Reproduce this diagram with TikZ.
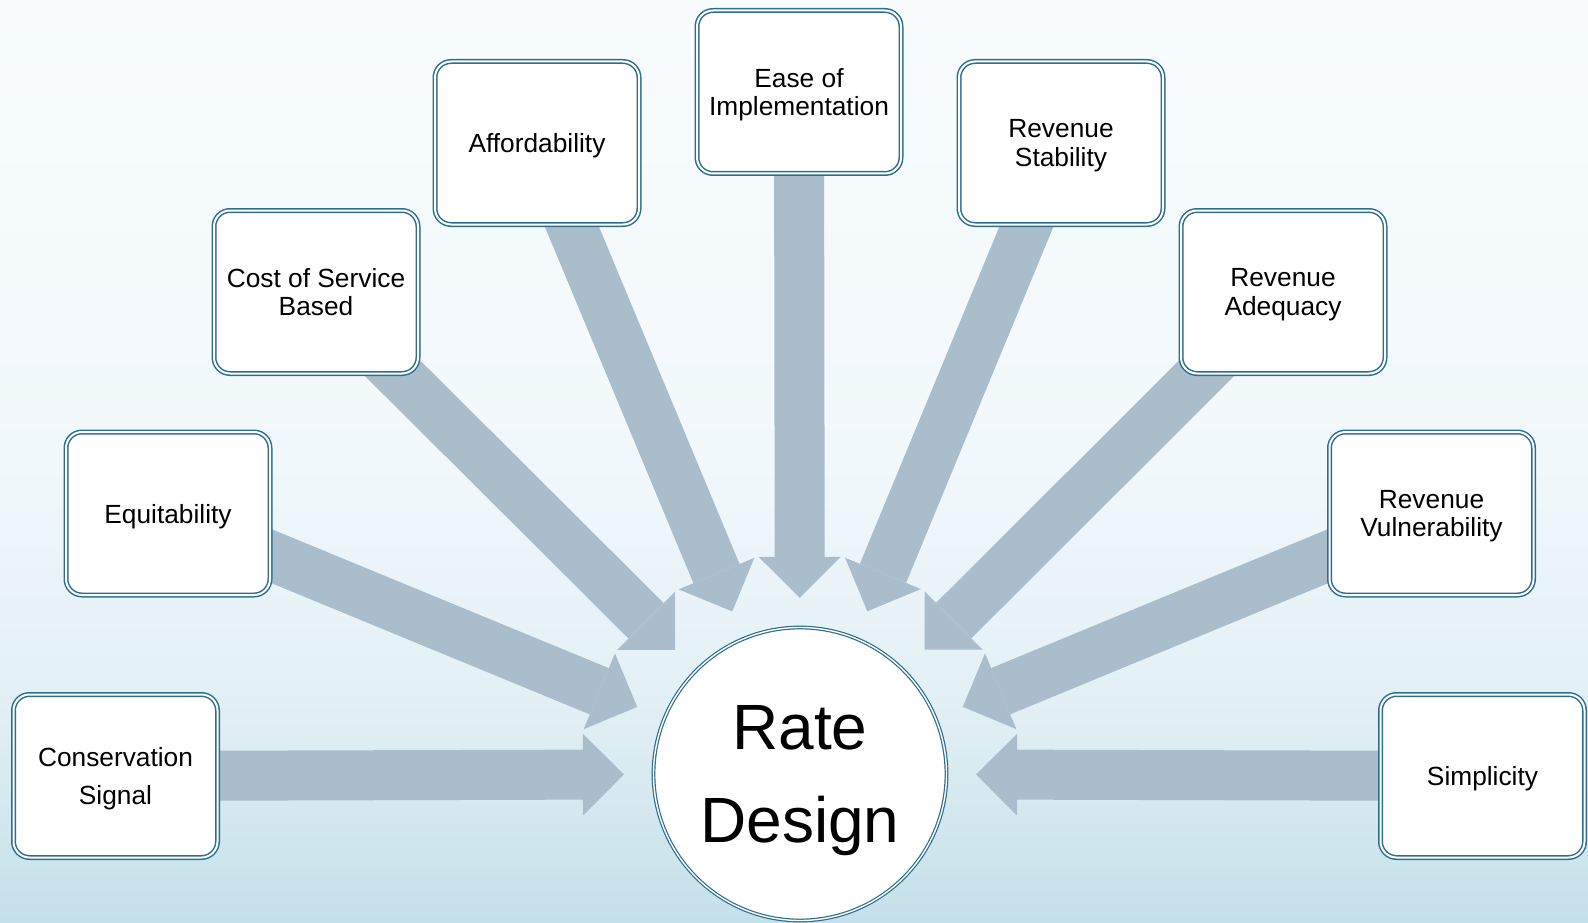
\documentclass[tikz,border=0pt]{standalone}
\usepackage{fontspec}
\setmainfont{Liberation Sans}
\usepackage{tikz}
\usetikzlibrary{arrows.meta, positioning, calc, backgrounds}
\definecolor{rimblue}{RGB}{44,110,142}
\definecolor{flowgray}{RGB}{169,189,203}
\definecolor{skytop}{RGB}{248,252,254}
\definecolor{skymid}{RGB}{241,248,251}
\definecolor{skylow}{RGB}{226,240,245}
\definecolor{skybot}{RGB}{196,224,233}
\pgfdeclareverticalshading{skyfade}{100bp}{color(0bp)=(skybot); color(25bp)=(skybot); color(37bp)=(skylow); color(50bp)=(skymid); color(75bp)=(skytop); color(100bp)=(skytop)}
\pgfdeclarelayer{sky}
\pgfdeclarelayer{flows}
\pgfsetlayers{sky,flows,main}
\tikzstyle{factor} = [rectangle, draw=rimblue, double=white, line width=1.5pt, double distance=2pt, fill=white, rounded corners=16pt, minimum width=204pt, minimum height=163pt, align=center, text depth=0pt, font=\fontsize{26.3}{28.5}\selectfont]
\tikzstyle{hub} = [circle, draw=rimblue, double=white, line width=1.2pt, double distance=1.4pt, fill=white, minimum size=293pt, align=center, text depth=0pt, font=\fontsize{64}{93}\selectfont]
\tikzstyle{flow} = [draw=flowgray, line width=50pt, -{Triangle[width=82pt, length=41pt, line width=0pt]}, shorten >=29pt]

\begin{document}
\begin{tikzpicture}[x=1pt, y=-1pt]
    \useasboundingbox (0,0) rectangle (1588,923);
    \begin{pgfonlayer}{sky}
        \shade[shading=skyfade] (0,0) rectangle (1588,923);
    \end{pgfonlayer}

    \node (rate) [hub] at (800,774) {Rate\\Design};

    \node (cons) [factor] at (115.5,776) {Conservation\\[10pt]Signal};
    \node (equit) [factor] at (168,513.5) {Equitability};
    \node (cost) [factor] at (316,292) {Cost of Service\\Based};
    \node (afford) [factor] at (537,143) {Affordability};
    \node (ease) [factor] at (799,92) {Ease of\\Implementation};
    \node (stab) [factor] at (1061,143) {Revenue\\Stability};
    \node (adeq) [factor] at (1283,292) {Revenue\\Adequacy};
    \node (vuln) [factor] at (1431.5,513.5) {Revenue\\Vulnerability};
    \node (simp) [factor] at (1482.5,776) {Simplicity};

    \begin{pgfonlayer}{flows}
        \draw [flow] (cons.center) -- (rate);
        \draw [flow] (equit.center) -- (rate);
        \draw [flow] (cost.center) -- (rate);
        \draw [flow] (afford.center) -- (rate);
        \draw [flow] (ease.center) -- (rate);
        \draw [flow] (stab.center) -- (rate);
        \draw [flow] (adeq.center) -- (rate);
        \draw [flow] (vuln.center) -- (rate);
        \draw [flow] (simp.center) -- (rate);
    \end{pgfonlayer}
\end{tikzpicture}
\end{document}
